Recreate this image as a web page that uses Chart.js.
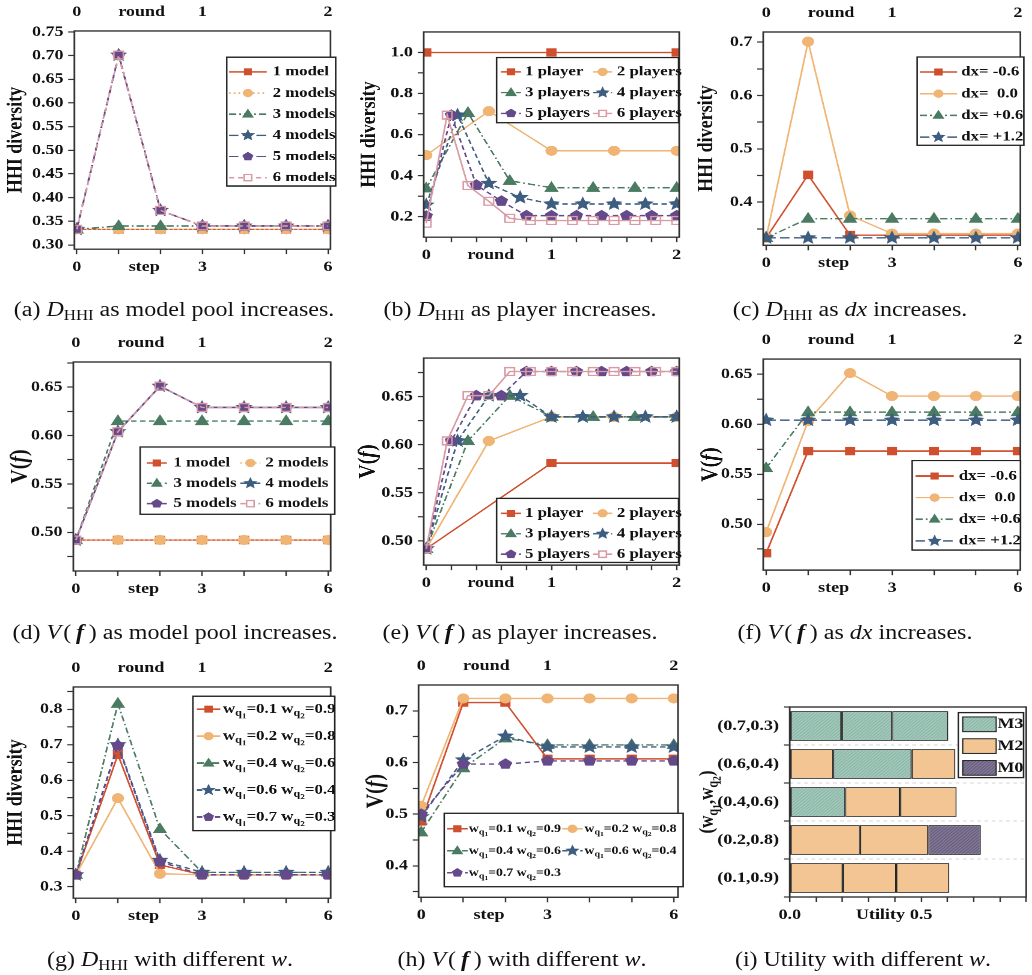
<!DOCTYPE html>
<html>
<head>
<meta charset="utf-8">
<script src="https://cdn.jsdelivr.net/npm/chart.js@4.4.0/dist/chart.umd.min.js"></script>
<style>
  html, body { margin: 0; padding: 0; background: #fff; overflow: hidden; }
  #fig { position: absolute; left: 0; top: 0; width: 860px; height: 975px; transform: scaleX(1.2); transform-origin: 0 0; }
  .panel { position: absolute; }
  .cap { position: absolute; width: 300px; line-height: 24px; text-align: center; white-space: nowrap;
         font-family: "Liberation Serif", "Times New Roman", serif; font-size: 20px; color: #111; }
  .cap sub { font-size: 14px; vertical-align: -4px; line-height: 0; }
</style>
</head>
<body>
<div id="fig"></div>
<script>
// ---------------- data ----------------
const steps = [0, 1, 2, 3, 4, 5, 6];
const stepTicks = ['0', '3', '6'];
const stepMinor = [1, 2, 4, 5];
const roundTicks = ['0', '1', '2'];
const roundMinor = [0.2, 0.4, 0.6, 0.8, 1.2, 1.4, 1.6, 1.8];

// (a) HHI diversity, model pool
const modelLabels = ['1 model', '2 models', '3 models', '4 models', '5 models', '6 models'];
const hhiModel1 = [0.333, 0.333, 0.333, 0.333, 0.333, 0.333, 0.333];
const hhiModel2 = [0.333, 0.333, 0.333, 0.333, 0.333, 0.333, 0.333];
const hhiModel3 = [0.333, 0.340, 0.340, 0.340, 0.340, 0.340, 0.340];
const hhiModel4 = [0.333, 0.701, 0.373, 0.340, 0.340, 0.340, 0.340];
const hhiModel5 = [0.333, 0.701, 0.373, 0.340, 0.340, 0.340, 0.340];
const hhiModel6 = [0.333, 0.701, 0.373, 0.340, 0.340, 0.340, 0.340];
const hhiTicksA = ['0.30', '0.35', '0.40', '0.45', '0.50', '0.55', '0.60', '0.65', '0.70', '0.75'];

// (b) HHI diversity, players (x = round)
const playerLabels = ['1 player', '2 players', '3 players', '4 players', '5 players', '6 players'];
const roundsP1 = [0, 1, 2];
const roundsP2 = [0, 0.5, 1, 1.5, 2];
const roundsP3 = [0, 0.333, 0.667, 1, 1.333, 1.667, 2];
const roundsP4 = [0, 0.25, 0.5, 0.75, 1, 1.25, 1.5, 1.75, 2];
const roundsP5 = [0, 0.2, 0.4, 0.6, 0.8, 1, 1.2, 1.4, 1.6, 1.8, 2];
const roundsP6 = [0, 0.167, 0.333, 0.5, 0.667, 0.833, 1, 1.167, 1.333, 1.5, 1.667, 1.833, 2];
const hhiPlayer1 = [1.0, 1.0, 1.0];
const hhiPlayer2 = [0.50, 0.714, 0.521, 0.521, 0.521];
const hhiPlayer3 = [0.338, 0.706, 0.375, 0.341, 0.341, 0.341, 0.341];
const hhiPlayer4 = [0.257, 0.695, 0.362, 0.293, 0.262, 0.262, 0.262, 0.262, 0.262];
const hhiPlayer5 = [0.203, 0.695, 0.354, 0.276, 0.205, 0.205, 0.205, 0.205, 0.205, 0.205, 0.205];
const hhiPlayer6 = [0.168, 0.695, 0.351, 0.275, 0.192, 0.181, 0.181, 0.181, 0.181, 0.181, 0.181, 0.181, 0.181];
const hhiTicksB = ['0.2', '0.4', '0.6', '0.8', '1.0'];
const hhiMinorB = [0.3, 0.5, 0.7, 0.9];

// (c) HHI diversity, dx
const dxLabels = ['dx= -0.6', 'dx=  0.0', 'dx= +0.6', 'dx= +1.2'];
const hhiDx1 = [0.333, 0.451, 0.338, 0.338, 0.338, 0.338, 0.338];
const hhiDx2 = [0.333, 0.701, 0.375, 0.341, 0.341, 0.341, 0.341];
const hhiDx3 = [0.333, 0.369, 0.369, 0.369, 0.369, 0.369, 0.369];
const hhiDx4 = [0.333, 0.333, 0.333, 0.333, 0.333, 0.333, 0.333];
const hhiTicksC = ['0.4', '0.5', '0.6', '0.7'];
const hhiMinorC = [0.35, 0.45, 0.55, 0.65];

// (d) V(f), model pool
const vModel1 = [0.492, 0.492, 0.492, 0.492, 0.492, 0.492, 0.492];
const vModel2 = [0.492, 0.492, 0.492, 0.492, 0.492, 0.492, 0.492];
const vModel3 = [0.492, 0.615, 0.615, 0.615, 0.615, 0.615, 0.615];
const vModel4 = [0.492, 0.604, 0.651, 0.629, 0.629, 0.629, 0.629];
const vModel5 = [0.492, 0.604, 0.651, 0.629, 0.629, 0.629, 0.629];
const vModel6 = [0.492, 0.604, 0.651, 0.629, 0.629, 0.629, 0.629];
const vTicksD = ['0.50', '0.55', '0.60', '0.65'];
const vMinorD = [0.475, 0.525, 0.575, 0.625, 0.675];

// (e) V(f), players
const vPlayer1 = [0.492, 0.581, 0.581];
const vPlayer2 = [0.492, 0.604, 0.629, 0.629, 0.629];
const vPlayer3 = [0.492, 0.604, 0.651, 0.629, 0.629, 0.629, 0.629];
const vPlayer4 = [0.492, 0.604, 0.651, 0.651, 0.629, 0.629, 0.629, 0.629, 0.629];
const vPlayer5 = [0.492, 0.604, 0.651, 0.651, 0.676, 0.676, 0.676, 0.676, 0.676, 0.676, 0.676];
const vPlayer6 = [0.492, 0.604, 0.651, 0.651, 0.676, 0.676, 0.676, 0.676, 0.676, 0.676, 0.676, 0.676, 0.676];
const vTicksE = ['0.50', '0.55', '0.60', '0.65'];
const vMinorE = [0.525, 0.575, 0.625, 0.675];

// (f) V(f), dx
const vDx1 = [0.471, 0.573, 0.573, 0.573, 0.573, 0.573, 0.573];
const vDx2 = [0.492, 0.603, 0.651, 0.628, 0.628, 0.628, 0.628];
const vDx3 = [0.556, 0.612, 0.612, 0.612, 0.612, 0.612, 0.612];
const vDx4 = [0.604, 0.604, 0.604, 0.604, 0.604, 0.604, 0.604];
const vTicksF = ['0.50', '0.55', '0.60', '0.65'];
const vMinorF = [0.475, 0.525, 0.575, 0.625];

// (g) HHI diversity, weights
const wLabels = ['w_{q1}=0.1 w_{q2}=0.9', 'w_{q1}=0.2 w_{q2}=0.8', 'w_{q1}=0.4 w_{q2}=0.6', 'w_{q1}=0.6 w_{q2}=0.4', 'w_{q1}=0.7 w_{q2}=0.3'];
const hhiW1 = [0.333, 0.672, 0.361, 0.333, 0.333, 0.333, 0.333];
const hhiW2 = [0.333, 0.549, 0.336, 0.333, 0.333, 0.333, 0.333];
const hhiW3 = [0.333, 0.816, 0.462, 0.340, 0.340, 0.340, 0.340];
const hhiW4 = [0.333, 0.700, 0.374, 0.340, 0.340, 0.340, 0.340];
const hhiW5 = [0.333, 0.697, 0.370, 0.333, 0.333, 0.333, 0.333];
const hhiTicksG = ['0.3', '0.4', '0.5', '0.6', '0.7', '0.8'];
const hhiMinorG = [0.35, 0.45, 0.55, 0.65, 0.75, 0.85];

// (h) V(f), weights
const vW1 = [0.486, 0.716, 0.716, 0.607, 0.607, 0.607, 0.607];
const vW2 = [0.516, 0.724, 0.724, 0.724, 0.724, 0.724, 0.724];
const vW3 = [0.465, 0.589, 0.647, 0.634, 0.634, 0.634, 0.634];
const vW4 = [0.495, 0.605, 0.651, 0.630, 0.630, 0.630, 0.630];
const vW5 = [0.500, 0.597, 0.597, 0.603, 0.603, 0.603, 0.603];
const vTicksH = ['0.4', '0.5', '0.6', '0.7'];
const vMinorH = [0.35, 0.45, 0.55, 0.65];

// (i) utility per player, stacked, with the model each player picked
const utilCats = ['(0.7,0.3)', '(0.6,0.4)', '(0.4,0.6)', '(0.2,0.8)', '(0.1,0.9)'];
const utilSeg1 = [0.197, 0.165, 0.211, 0.267, 0.202];
const utilSeg2 = [0.193, 0.299, 0.209, 0.260, 0.203];
const utilSeg3 = [0.213, 0.166, 0.215, 0.200, 0.202];
const utilModel1 = ['M3', 'M2', 'M3', 'M2', 'M2'];
const utilModel2 = ['M3', 'M3', 'M2', 'M2', 'M2'];
const utilModel3 = ['M3', 'M2', 'M2', 'M0', 'M2'];
const utilModels = ['M3', 'M2', 'M0'];
const utilTicks = ['0.0', '0.5'];
const utilMinor = [0.1, 0.2, 0.3, 0.4, 0.6, 0.7, 0.8, 0.9];

// ---------------- styling ----------------
const FONT = '"Liberation Serif", "Times New Roman", Times, serif';
const tickFont = { family: FONT, size: 15, weight: 'bold' };
const S = 1.2;                        // the source figure is stretched horizontally
const MR = 6, MT = 30, MB = 40;
const C = { red: '#cf4f2e', orange: '#f0b474', green: '#4b7b62', blue: '#3e5e80', purple: '#654a8b', pink: '#d99aa3' };
const solid = [], dotted = [1.5, 2.5], dashdot = [6, 2.5, 1.5, 2.5], longdash = [8, 3.5], dashed = [4.5, 3];
const markerR = { square: 4.4, circle: 4.6, triangle: 5.2, star: 6.2, pentagon: 5.2, open: 4.6 };

function st(color, dash, marker) { return { color, dash, marker }; }
const styleA = [st(C.red, solid, 'square'), st(C.orange, dotted, 'circle'), st(C.green, dashdot, 'triangle'), st(C.blue, longdash, 'star'), st(C.purple, longdash, 'pentagon'), st(C.pink, dashed, 'open')];
const styleB = [st(C.red, solid, 'square'), st(C.orange, solid, 'circle'), st(C.green, dashdot, 'triangle'), st(C.blue, dashed, 'star'), st(C.purple, dashed, 'pentagon'), st(C.pink, solid, 'open')];
const styleC = [st(C.red, solid, 'square'), st(C.orange, solid, 'circle'), st(C.green, dashdot, 'triangle'), st(C.blue, longdash, 'star')];
const styleD = [st(C.red, solid, 'square'), st(C.orange, dotted, 'circle'), st(C.green, dashed, 'triangle'), st(C.blue, solid, 'star'), st(C.purple, solid, 'pentagon'), st(C.pink, dashed, 'open')];
const styleG = [st(C.red, solid, 'square'), st(C.orange, solid, 'circle'), st(C.green, dashdot, 'triangle'), st(C.blue, dashed, 'star'), st(C.purple, dashed, 'pentagon')];

function dots(bg, dot) {
  const c = document.createElement('canvas');
  c.width = 3; c.height = 3;
  const g = c.getContext('2d');
  g.fillStyle = bg; g.fillRect(0, 0, 3, 3);
  g.fillStyle = dot; g.fillRect(0, 0, 1, 1); g.fillRect(2, 1, 1, 1); g.fillRect(1, 2, 1, 1);
  return g.createPattern(c, 'repeat');
}
const modelFill = { M3: dots('#a9cfc1', '#7aa898'), M2: '#f2c592', M0: dots('#8a7f9c', '#51476a') };

// ---------------- drawing helpers ----------------
function drawMarker(ctx, m, x, y, r, color) {
  ctx.beginPath();
  if (m === 'square' || m === 'open') {
    ctx.rect(x - r * 0.85, y - r * 0.85, r * 1.7, r * 1.7);
  } else if (m === 'circle') {
    ctx.arc(x, y, r, 0, Math.PI * 2);
  } else if (m === 'triangle') {
    ctx.moveTo(x, y - r * 1.1); ctx.lineTo(x + r, y + r * 0.7); ctx.lineTo(x - r, y + r * 0.7); ctx.closePath();
  } else {
    const n = m === 'star' ? 10 : 5;
    for (let k = 0; k < n; k++) {
      const a = -Math.PI / 2 + k * 2 * Math.PI / n;
      const rr = (m === 'star' && k % 2) ? r * 0.45 : r;
      if (k === 0) ctx.moveTo(x + rr * Math.cos(a), y + rr * Math.sin(a));
      else ctx.lineTo(x + rr * Math.cos(a), y + rr * Math.sin(a));
    }
    ctx.closePath();
  }
  ctx.setLineDash([]);
  ctx.lineWidth = m === 'open' ? 1.3 : 1;
  ctx.strokeStyle = color;
  if (m !== 'open') { ctx.fillStyle = color; ctx.fill(); }   // open squares stay hollow
  ctx.stroke();
}

// tiny markup: _{..} subscript (digits one level deeper), *..* italic
function parseRich(str) {
  const runs = [];
  let i = 0, it = false;
  while (i < str.length) {
    const ch = str[i];
    if (ch === '*') { it = !it; i++; continue; }
    if (ch === '_' && str[i + 1] === '{') {
      const end = str.indexOf('}', i);
      for (const c of str.slice(i + 2, end)) runs.push({ t: c, lvl: /\d/.test(c) ? 2 : 1, it });
      i = end + 1;
      continue;
    }
    runs.push({ t: ch, lvl: 0, it });
    i++;
  }
  const out = [];
  runs.forEach(r => {
    const last = out[out.length - 1];
    if (last && last.lvl === r.lvl && last.it === r.it) last.t += r.t; else out.push(r);
  });
  return out;
}
const richScale = [1, 0.72, 0.55], richShift = [0, 0.3, 0.5];
function richFont(r, size) { return (r.it ? 'italic ' : '') + 'bold ' + (size * richScale[r.lvl]).toFixed(1) + 'px ' + FONT; }
function drawRich(ctx, str, x, y, size, align) {
  const runs = parseRich(str);
  let total = 0;
  runs.forEach(r => { ctx.font = richFont(r, size); r.w = ctx.measureText(r.t).width; total += r.w; });
  let cx = align === 'center' ? x - total / 2 : x;
  ctx.fillStyle = '#111';
  ctx.textAlign = 'left';
  ctx.textBaseline = 'middle';
  runs.forEach(r => { ctx.font = richFont(r, size); ctx.fillText(r.t, cx, y + richShift[r.lvl] * size); cx += r.w; });
}

function drawLegend(chart, o) {
  const ctx = chart.ctx, a = chart.chartArea;
  const bx = a.left + o.x, by = a.top + o.y;
  ctx.setLineDash([]);
  ctx.fillStyle = '#fff';
  ctx.fillRect(bx, by, o.w, o.h);
  ctx.strokeStyle = '#222'; ctx.lineWidth = 1.3;
  ctx.strokeRect(bx, by, o.w, o.h);
  const items = o.swatches || chart.data.datasets;
  items.forEach((it, i) => {
    const col = o.cols[i % o.cols.length];
    const cy = by + o.row0 + Math.floor(i / o.cols.length) * o.rowH;
    if (o.swatches) {
      ctx.fillStyle = it.fill;
      ctx.fillRect(bx + col[0], cy - o.swatchH / 2, col[1] - col[0], o.swatchH);
      ctx.strokeStyle = '#222'; ctx.lineWidth = 1;
      ctx.strokeRect(bx + col[0], cy - o.swatchH / 2, col[1] - col[0], o.swatchH);
    } else {
      ctx.strokeStyle = it.borderColor; ctx.lineWidth = 1.5;
      ctx.setLineDash(it.borderDash);
      ctx.beginPath(); ctx.moveTo(bx + col[0], cy); ctx.lineTo(bx + col[1], cy); ctx.stroke();
      if (it.marker === 'open') {   // keep the line from showing through the hollow marker
        ctx.fillStyle = '#fff';
        ctx.fillRect(bx + (col[0] + col[1]) / 2 - it.markerR * 0.7, cy - it.markerR * 0.7, it.markerR * 1.4, it.markerR * 1.4);
      }
      drawMarker(ctx, it.marker, bx + (col[0] + col[1]) / 2, cy, it.markerR * 0.8, it.borderColor);
    }
    drawRich(ctx, it.label, bx + col[2], cy, o.font, 'left');
  });
}

const decor = {
  id: 'decor',
  afterDatasetDraw(chart, args) {
    const ds = chart.data.datasets[args.index];
    if (!ds.marker) return;
    const a = chart.chartArea, ctx = chart.ctx;
    ctx.save();
    ctx.beginPath(); ctx.rect(a.left, a.top, a.right - a.left, a.bottom - a.top); ctx.clip();
    args.meta.data.forEach(p => drawMarker(ctx, ds.marker, p.x, p.y, ds.markerR, ds.borderColor));
    ctx.restore();
  },
  afterDraw(chart) {
    const d = chart.canvas._decor, a = chart.chartArea, ctx = chart.ctx;
    ctx.save();
    ctx.setLineDash([]);
    ctx.strokeStyle = '#333'; ctx.lineWidth = 1.4;
    ctx.strokeRect(a.left, a.top, a.right - a.left, a.bottom - a.top);
    if (d.ytitle) {
      ctx.save();
      ctx.translate(a.left + d.ytitle.dx, (a.top + a.bottom) / 2);
      ctx.rotate(-Math.PI / 2);
      drawRich(ctx, d.ytitle.text, 0, 0, d.ytitle.size, 'center');
      ctx.restore();
    }
    if (d.legend) drawLegend(chart, d.legend);
    ctx.restore();
  }
};

// ---------------- scales ----------------
function tickList(labels, minor, marks) {
  const list = labels.map(s => ({ value: +s, txt: s }));
  (minor || []).forEach(v => list.push({ value: v, txt: '' }));
  (marks || []).forEach(m => list.push({ value: m[0], txt: m[1], hide: true }));
  return list.sort((p, q) => p.value - q.value);
}

function axis(pos, min, max, list, size) {
  const horizontal = pos === 'top' || pos === 'bottom';
  return {
    type: 'linear', position: pos, min: min, max: max,
    afterBuildTicks: s => { s.ticks = list.map(t => Object.assign({}, t)); },
    afterFit: s => { if (horizontal) s.height = size; else s.width = size; },
    ticks: {
      autoSkip: false, maxRotation: 0, minRotation: 0, font: tickFont, color: '#111',
      padding: pos === 'top' ? 10 : 4,
      callback: (v, i, t) => t[i].txt
    },
    grid: {
      drawOnChartArea: false, drawTicks: pos !== 'top', tickLength: 5, tickWidth: 1.2,
      tickColor: c => (c.tick && c.tick.hide) ? 'rgba(0,0,0,0)' : '#333'
    },
    border: { display: false }
  };
}

// ---------------- layout ----------------
const fig = document.getElementById('fig');

function mount(frame, ml) {
  const L = frame[0] / S, R = frame[1] / S;
  const div = document.createElement('div');
  div.className = 'panel';
  div.style.left = (L - ml) + 'px';
  div.style.top = (frame[2] - MT) + 'px';
  div.style.width = (R - L + ml + MR) + 'px';
  div.style.height = (frame[3] - frame[2] + MT + MB) + 'px';
  const c = document.createElement('canvas');
  div.appendChild(c);
  fig.appendChild(div);
  return c;
}

function caption(html, cx, cy) {
  const d = document.createElement('div');
  d.className = 'cap';
  d.innerHTML = html;
  d.style.left = (cx / S - 150) + 'px';
  d.style.top = (cy - 12) + 'px';
  fig.appendChild(d);
}

function makeSets(labels, xsList, ysList, styles) {
  return labels.map((label, i) => ({
    label: label,
    data: ysList[i].map((y, k) => ({ x: xsList[i][k], y: y })),
    borderColor: styles[i].color,
    borderDash: styles[i].dash,
    borderWidth: 1.4,
    pointRadius: 0, pointHoverRadius: 0,
    tension: 0,
    marker: styles[i].marker,
    markerR: markerR[styles[i].marker],
    order: labels.length - i
  }));
}

function lineChart(frame, o) {
  const canvas = mount(frame, 60);
  canvas._decor = { legend: o.legend, ytitle: o.ytitle };
  const scales = {
    x: axis('bottom', o.xMin, o.xMax, o.xTicks, MB),
    y: axis('left', o.yMin, o.yMax, o.yTicks, 60)
  };
  if (o.topTicks) scales.x2 = axis('top', o.xMin / 3, o.xMax / 3, o.topTicks, MT);
  return new Chart(canvas.getContext('2d'), {
    type: 'line',
    data: { datasets: o.datasets },
    options: {
      animation: false, responsive: true, maintainAspectRatio: false, devicePixelRatio: 2,
      layout: { padding: { top: o.topTicks ? 0 : MT, right: MR, left: 0, bottom: 0 } },
      plugins: { legend: { display: false }, tooltip: { enabled: false } },
      scales: scales
    },
    plugins: [decor]
  });
}

const stepAxis = tickList(stepTicks, stepMinor, [[1.61, 'step']]);
const roundTop = tickList(roundTicks, [], [[0.516, 'round']]);
const roundAxis = tickList(roundTicks, roundMinor, [[0.515, 'round']]);
const allSteps = (n) => Array(n).fill(steps);
const playerXs = [roundsP1, roundsP2, roundsP3, roundsP4, roundsP5, roundsP6];
const hhiTitle = 'HHI diversity', vTitle = 'V(*f*)';

// (a)
lineChart([74, 337.5, 30.7, 249.3], {
  datasets: makeSets(modelLabels, allSteps(6), [hhiModel1, hhiModel2, hhiModel3, hhiModel4, hhiModel5, hhiModel6], styleA),
  xMin: -0.06, xMax: 6.06, xTicks: stepAxis, topTicks: roundTop,
  yMin: 0.291, yMax: 0.752, yTicks: tickList(hhiTicksA),
  ytitle: { text: hhiTitle, dx: -48.5, size: 18 },
  legend: { x: 127.2, y: 26.3, w: 91, h: 129, row0: 14.7, rowH: 21.2, cols: [[1.9, 33.6, 38.4]], font: 14 }
});
// (b)
lineChart([424, 679, 31.7, 237.3], {
  datasets: makeSets(playerLabels, playerXs, [hhiPlayer1, hhiPlayer2, hhiPlayer3, hhiPlayer4, hhiPlayer5, hhiPlayer6], styleB),
  xMin: -0.02, xMax: 2.02, xTicks: roundAxis,
  yMin: 0.1, yMax: 1.1, yTicks: tickList(hhiTicksB, hhiMinorB),
  ytitle: { text: hhiTitle, dx: -45, size: 18 },
  legend: { x: 60.6, y: 25.6, w: 151.4, h: 65.4, row0: 14.4, rowH: 20.8, cols: [[3.6, 20.3, 23.6], [80.3, 96.1, 100]], font: 14 }
});
// (c)
lineChart([762.7, 1026.7, 31.7, 245], {
  datasets: makeSets(dxLabels, allSteps(4), [hhiDx1, hhiDx2, hhiDx3, hhiDx4], styleC),
  xMin: -0.07, xMax: 6.06, xTicks: stepAxis, topTicks: roundTop,
  yMin: 0.319, yMax: 0.719, yTicks: tickList(hhiTicksC, hhiMinorC),
  ytitle: { text: hhiTitle, dx: -47.3, size: 18 },
  legend: { x: 128.3, y: 25, w: 88.9, h: 88.3, row0: 15, rowH: 21.7, cols: [[2.2, 33.3, 36.7]], font: 14 }
});
// (d)
lineChart([73.3, 337, 361.7, 570.7], {
  datasets: makeSets(modelLabels, allSteps(6), [vModel1, vModel2, vModel3, vModel4, vModel5, vModel6], styleD),
  xMin: -0.06, xMax: 6.06, xTicks: stepAxis, topTicks: roundTop,
  yMin: 0.46, yMax: 0.676, yTicks: tickList(vTicksD, vMinorD),
  ytitle: { text: vTitle, dx: -44.4, size: 20 },
  legend: { x: 55.6, y: 85, w: 161.9, h: 67.3, row0: 16, rowH: 20.3, cols: [[5.5, 22.2, 27.7], [83.3, 100, 104.1]], font: 14 }
});
// (e)
lineChart([424, 679, 358.3, 565], {
  datasets: makeSets(playerLabels, playerXs, [vPlayer1, vPlayer2, vPlayer3, vPlayer4, vPlayer5, vPlayer6], styleB),
  xMin: -0.02, xMax: 2.02, xTicks: roundAxis,
  yMin: 0.475, yMax: 0.69, yTicks: tickList(vTicksE, vMinorE),
  ytitle: { text: vTitle, dx: -46.3, size: 20 },
  legend: { x: 60.6, y: 140, w: 151.4, h: 64, row0: 15, rowH: 20.4, cols: [[3.6, 20.3, 23.6], [80.3, 96.1, 100]], font: 14 }
});
// (f)
lineChart([762.7, 1026.7, 359.3, 570], {
  datasets: makeSets(dxLabels, allSteps(4), [vDx1, vDx2, vDx3, vDx4], styleC),
  xMin: -0.07, xMax: 6.06, xTicks: stepAxis, topTicks: roundTop,
  yMin: 0.454, yMax: 0.665, yTicks: tickList(vTicksF, vMinorF),
  ytitle: { text: vTitle, dx: -43.9, size: 20 },
  legend: { x: 124.1, y: 101.4, w: 90.3, h: 89.3, row0: 15.3, rowH: 21.6, cols: [[2.8, 34.7, 38.9]], font: 14 }
});
// (g)
lineChart([73.3, 337, 686.7, 898.3], {
  datasets: makeSets(wLabels, allSteps(5), [hhiW1, hhiW2, hhiW3, hhiW4, hhiW5], styleG),
  xMin: -0.06, xMax: 6.06, xTicks: stepAxis, topTicks: roundTop,
  yMin: 0.267, yMax: 0.863, yTicks: tickList(hhiTicksG, hhiMinorG),
  ytitle: { text: hhiTitle, dx: -47.8, size: 18 },
  legend: { x: 99.5, y: 9.3, w: 118, h: 134.7, row0: 13, rowH: 27, cols: [[3.3, 22.7, 25]], font: 14 }
});
// (h)
lineChart([418.3, 683.3, 685, 897.3], {
  datasets: makeSets(wLabels, allSteps(5), [vW1, vW2, vW3, vW4, vW5], styleG),
  xMin: -0.06, xMax: 6.1, xTicks: stepAxis, topTicks: roundTop,
  yMin: 0.339, yMax: 0.75, yTicks: tickList(vTicksH, vMinorH),
  ytitle: { text: vTitle, dx: -35.6, size: 20 },
  legend: { x: 21.4, y: 128.3, w: 199.4, h: 73.4, row0: 15.5, rowH: 22, cols: [[2.2, 19.5, 20.5], [98.4, 115.5, 117]], font: 11.5 }
});

// (i) stacked horizontal bars
(function() {
  const canvas = mount([790, 1026, 706.7, 896.7], 80);
  canvas._decor = {
    ytitle: { text: '(w_{q1},w_{q2})', dx: -68.3, size: 17 },
    legend: { x: 140.3, y: 5.6, w: 54.2, h: 65, row0: 11.7, rowH: 21.8, cols: [[3.6, 31.4, 32.4]], font: 15, swatchH: 14.7,
              swatches: utilModels.map(m => ({ label: m, fill: modelFill[m] })) }
  };
  const seg = (vals, models) => ({
    data: vals,
    backgroundColor: c => modelFill[models[c.dataIndex]],
    borderColor: '#222', borderWidth: 1, borderSkipped: false,
    barPercentage: 1, categoryPercentage: 0.78
  });
  const x = axis('bottom', 0, 0.9, tickList(utilTicks, utilMinor, [[0.345, 'Utility']]), MB);
  x.stacked = true;
  new Chart(canvas.getContext('2d'), {
    type: 'bar',
    data: {
      labels: utilCats,
      datasets: [seg(utilSeg1, utilModel1), seg(utilSeg2, utilModel2), seg(utilSeg3, utilModel3)]
    },
    options: {
      indexAxis: 'y',
      animation: false, responsive: true, maintainAspectRatio: false, devicePixelRatio: 2,
      layout: { padding: { top: MT, right: MR, left: 0, bottom: 0 } },
      plugins: { legend: { display: false }, tooltip: { enabled: false } },
      scales: {
        x: x,
        y: {
          type: 'category', stacked: true,
          afterFit: s => { s.width = 80; },
          ticks: { font: tickFont, color: '#111', padding: 4 },
          grid: { color: '#d4d4d4', tickColor: '#333', tickLength: 5, tickWidth: 1.2, tickBorderDash: [] },
          border: { display: false, dash: [3, 3] }
        }
      }
    },
    plugins: [decor]
  });
})();

// ---------------- captions ----------------
const D = '<i>D</i><sub>HHI</sub>';
const V = '<i>V</i>&#8202;(&#8201;<b><i>f</i></b>&#8201;)';
caption('(a) ' + D + ' as model pool increases.', 174, 309);
caption('(b) ' + D + ' as player increases.', 520, 309);
caption('(c) ' + D + ' as <i>dx</i> increases.', 850, 309);
caption('(d) ' + V + ' as model pool increases.', 175, 632);
caption('(e) ' + V + ' as player increases.', 520, 632);
caption('(f) ' + V + ' as <i>dx</i> increases.', 855, 632);
caption('(g) ' + D + ' with different <i>w</i>.', 170, 959);
caption('(h) ' + V + ' with different <i>w</i>.', 522, 959);
caption('(i) Utility with different <i>w</i>.', 863, 959);
</script>
</body>
</html>
